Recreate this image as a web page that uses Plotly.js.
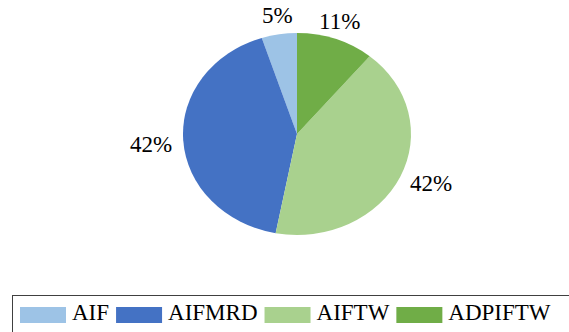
<!DOCTYPE html>
<html>
<head>
<meta charset="utf-8">
<script src="https://cdn.plot.ly/plotly-3.0.1.min.js"></script>
<style>
  html, body { margin: 0; padding: 0; overflow: hidden; background: #fff; }
  #chart { width: 600px; height: 332px; }
</style>
</head>
<body>
<div id="chart"></div>
<script>
// Share of each method (percent)
const categories = ['AIF', 'AIFMRD', 'AIFTW', 'ADPIFTW'];
const shares = [5, 42, 42, 11];
const sliceColors = ['#9DC3E6', '#4472C4', '#A9D18E', '#70AD47'];

const W = 600, H = 332;
const FONT = 'Liberation Serif';
const FONT_SIZE = 23;

// pie geometry (pixels): drawn as a circle, then stretched to an ellipse
const CX = 297, CY = 134, RX = 114, RY = 101;
// outside labels: gap from the rim, half width / half height of a label box,
// and a small downward drop for labels sitting beside the pie
const LABEL_GAP = 11, LABEL_HW = 21, LABEL_HH = 8, SIDE_DROP = 7, TOP_DROP = 1;

// legend frame and row
const LEG_X = 12.5, LEG_Y = 295.5, ROW_Y = 315, FIRST_SWATCH = 20;
const SWATCH_W = 46, SWATCH_H = 16, SWATCH_TEXT_GAP = 6, ITEM_GAP = 7;

const total = shares.reduce((a, b) => a + b, 0);

// percent labels placed just outside each slice, along its bisector
let cum = 0;
const annotations = shares.map(v => {
  const mid = (cum + v / 2) / total * 2 * Math.PI;
  cum += v;
  const dx = -Math.sin(mid), dy = -Math.cos(mid);   // counterclockwise from 12 o'clock
  const qx = CX + RX * dx + LABEL_GAP * dx;
  const qy = CY + RY * dy + LABEL_GAP * dy;
  let lx = qx, ly = qy;
  if (Math.abs(dx) > Math.abs(dy)) {
    lx += Math.sign(dx) * LABEL_HW;
    ly += SIDE_DROP;
  } else {
    ly += Math.sign(dy) * LABEL_HH + TOP_DROP;
  }
  return {
    x: lx / W, y: 1 - ly / H, xref: 'paper', yref: 'paper',
    xanchor: 'center', yanchor: 'middle', showarrow: false,
    text: Math.round(v / total * 100) + '%',
    font: { family: FONT, size: FONT_SIZE, color: '#000' }
  };
});

const data = [{
  type: 'pie',
  labels: categories,
  values: shares,
  sort: false,
  direction: 'counterclockwise',
  // first slice starts at 12 o'clock and runs counterclockwise
  rotation: -shares[0] / total * 360,
  textinfo: 'none',
  hoverinfo: 'none',
  marker: { colors: sliceColors, line: { width: 0 } },
  domain: { x: [(CX - 150) / W, (CX + 150) / W], y: [(H - CY - RY) / H, (H - CY + RY) / H] }
}];

const layout = {
  width: W, height: H,
  margin: { l: 0, r: 0, t: 0, b: 0 },
  paper_bgcolor: '#fff',
  font: { family: FONT, color: '#000' },
  showlegend: true,
  legend: {
    orientation: 'h',
    x: 12 / W, y: 1 - 295 / H, xanchor: 'left', yanchor: 'top',
    bordercolor: '#404040', borderwidth: 1, bgcolor: '#fff',
    font: { family: FONT, size: FONT_SIZE, color: '#000' },
    itemwidth: 50, itemclick: false, itemdoubleclick: false
  },
  annotations: annotations
};

Plotly.newPlot('chart', data, layout, { displayModeBar: false, staticPlot: true }).then(gd => {
  // stretch the pie into an ellipse centred on (CX, CY)
  const cd = gd.calcdata[0][0];
  gd.querySelectorAll('.pielayer .trace').forEach(g => {
    g.setAttribute('transform',
      `translate(${CX},${CY}) scale(${RX / cd.r},${RY / cd.r}) translate(${-cd.cx},${-cd.cy})`);
  });

  // legend: single row in a frame that runs off the right and bottom edges,
  // wide rectangular swatches right before each label
  const legend = gd.querySelector('g.legend');
  if (!legend) return;
  legend.setAttribute('transform', `translate(${LEG_X},${LEG_Y})`);
  const bg = legend.querySelector('rect.bg');
  if (bg) {
    bg.setAttribute('x', 0); bg.setAttribute('y', 0);
    bg.setAttribute('width', 1000); bg.setAttribute('height', 100);
  }
  const scroll = legend.querySelector('.scrollbox');
  if (scroll) { scroll.removeAttribute('clip-path'); scroll.setAttribute('transform', 'translate(0,0)'); }

  let cursor = FIRST_SWATCH - LEG_X;
  legend.querySelectorAll('g.traces').forEach(item => {
    const text = item.querySelector('text.legendtext');
    const sw = item.querySelector('path.legendpie');
    const tx = parseFloat(text.getAttribute('x')) || 0;
    text.setAttribute('y', 5);
    const swLeft = tx - SWATCH_TEXT_GAP - SWATCH_W;
    if (sw) {
      sw.setAttribute('transform', 'translate(0,0)');
      sw.setAttribute('d', `M${swLeft},${-SWATCH_H / 2}h${SWATCH_W}v${SWATCH_H}h${-SWATCH_W}Z`);
    }
    const tw = text.getComputedTextLength();
    const ox = cursor - swLeft;
    item.setAttribute('transform', `translate(${ox},${ROW_Y - LEG_Y})`);
    cursor = ox + tx + tw + ITEM_GAP;
  });
});
</script>
</body>
</html>
